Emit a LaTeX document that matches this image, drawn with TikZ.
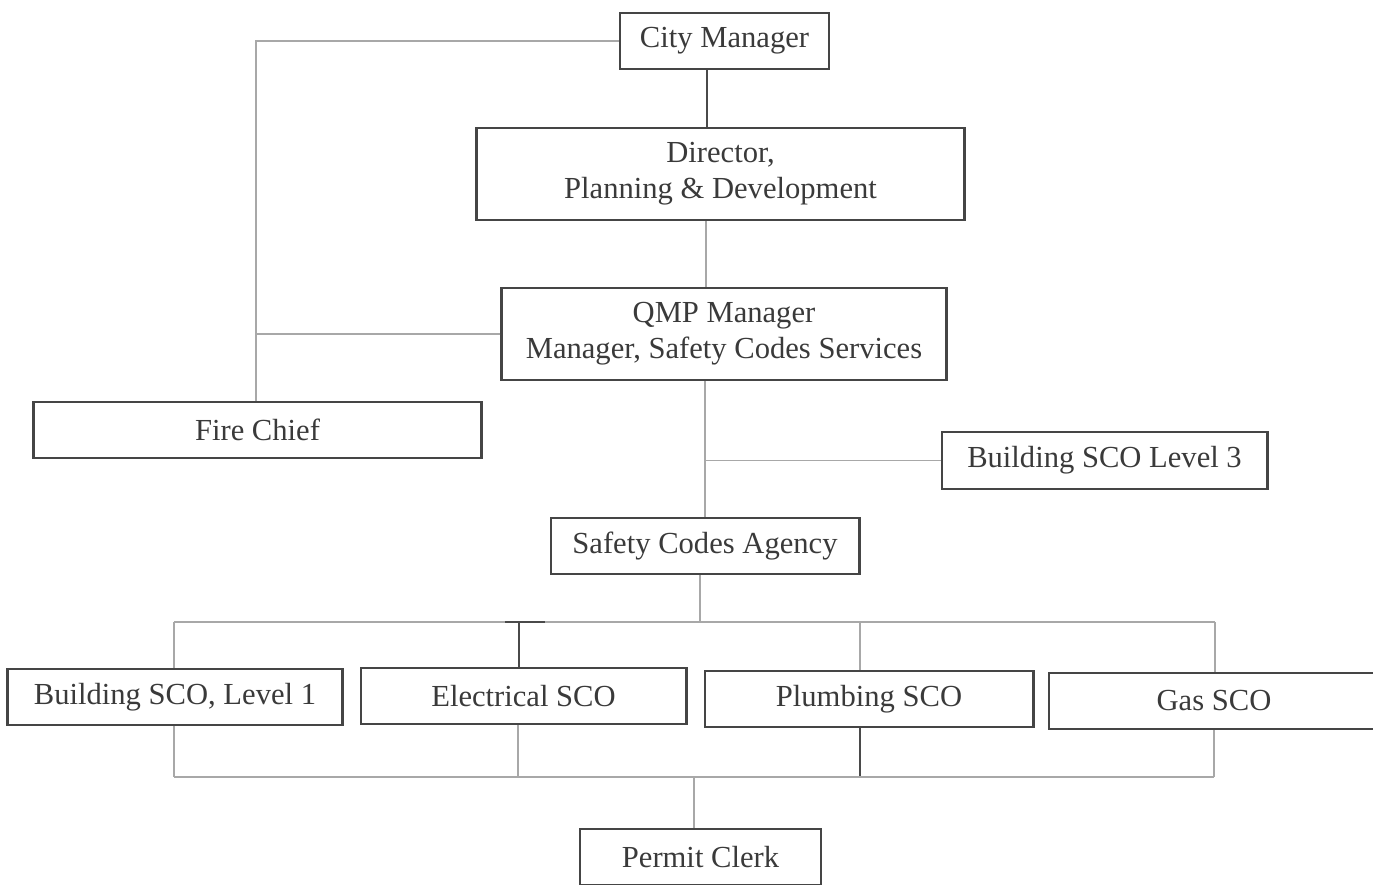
\documentclass[tikz,border=0pt]{standalone}
\usepackage{fontspec}
\setmainfont{Liberation Serif}
\usepackage{tikz}
\usetikzlibrary{calc}
\definecolor{boxgray}{HTML}{454545}
\definecolor{textgray}{HTML}{3A3A3A}
\definecolor{linegray}{HTML}{A8A8A8}
\definecolor{darkline}{HTML}{4A4A4A}

\begin{document}
\begin{tikzpicture}[x=0.01cm,y=-0.01cm,
    orgbox/.style={draw=boxgray,line width=0.8pt,inner sep=0pt,align=center,
        text=textgray,font=\fontsize{8.7}{10.3}\selectfont},
    thinline/.style={draw=linegray,line width=0.5pt},
    thickline/.style={draw=darkline,line width=0.8pt}]
    % Frame
    \useasboundingbox (0,0) rectangle (1373,884);

    % Boxes
    \node[orgbox,minimum width=2.09cm,minimum height=0.56cm] (city) at (724.5,41) {City Manager};
    \node[orgbox,minimum width=4.87cm,minimum height=0.92cm] (director) at (720.5,174) {Director,\\Planning \& Development};
    \node[orgbox,minimum width=4.44cm,minimum height=0.92cm] (qmp) at (724,334) {QMP Manager\\Manager, Safety Codes Services};
    \node[orgbox,minimum width=4.47cm,minimum height=0.56cm] (fire) at (257.5,430) {Fire Chief};
    \node[orgbox,minimum width=3.25cm,minimum height=0.57cm] (bsco3) at (1104.5,460.5) {Building SCO Level 3};
    \node[orgbox,minimum width=3.08cm,minimum height=0.56cm] (agency) at (705,546) {Safety Codes Agency};
    \node[orgbox,minimum width=3.34cm,minimum height=0.56cm] (bsco1) at (175,697) {Building SCO, Level 1};
    \node[orgbox,minimum width=3.25cm,minimum height=0.56cm] (elec) at (523.5,696) {Electrical SCO};
    \node[orgbox,minimum width=3.28cm,minimum height=0.56cm] (plumb) at (869,699) {Plumbing SCO};
    \node[orgbox,minimum width=3.30cm,minimum height=0.56cm] (gas) at (1214,701) {Gas SCO};
    \node[orgbox,minimum width=2.41cm,minimum height=0.56cm] (clerk) at (700.5,857) {Permit Clerk};

    % Bus points
    \coordinate (topbus) at (700,622);
    \coordinate (lowbus) at (694,777);

    % Upper connectors
    \draw[thickline] (city.south -| 707,0) -- (director.north -| 707,0);
    \draw[thinline] (director.south -| 706,0) -- (qmp.north -| 706,0);
    \draw[thinline] (city.west) -| (fire.north -| 256,0);
    \draw[thinline] (qmp.west) -- (qmp.west -| 256,0);
    \draw[thinline] (qmp.south -| 705,0) -- (agency.north -| 705,0);
    \draw[thinline] (bsco3.west) -- (bsco3.west -| 705,0);

    % Top bus
    \draw[thinline] (agency.south -| topbus) -- (topbus);
    \draw[thinline] (topbus -| 174,0) -- (topbus -| 1215,0);
    \draw[thickline] (topbus -| 505,0) -- (topbus -| 545,0);
    \draw[thinline] (topbus -| 174,0) -- (bsco1.north -| 174,0);
    \draw[thickline] (topbus -| 519,0) -- (elec.north -| 519,0);
    \draw[thinline] (topbus -| 860,0) -- (plumb.north -| 860,0);
    \draw[thinline] (topbus -| 1215,0) -- (gas.north -| 1215,0);

    % Lower bus
    \draw[thinline] (bsco1.south -| 174,0) -- (lowbus -| 174,0);
    \draw[thinline] (elec.south -| 518,0) -- (lowbus -| 518,0);
    \draw[thickline] (plumb.south -| 860,0) -- (lowbus -| 860,0);
    \draw[thinline] (gas.south -| 1214,0) -- (lowbus -| 1214,0);
    \draw[thinline] (lowbus -| 174,0) -- (lowbus -| 1214,0);
    \draw[thinline] (lowbus) -- (clerk.north -| lowbus);
\end{tikzpicture}
\end{document}
